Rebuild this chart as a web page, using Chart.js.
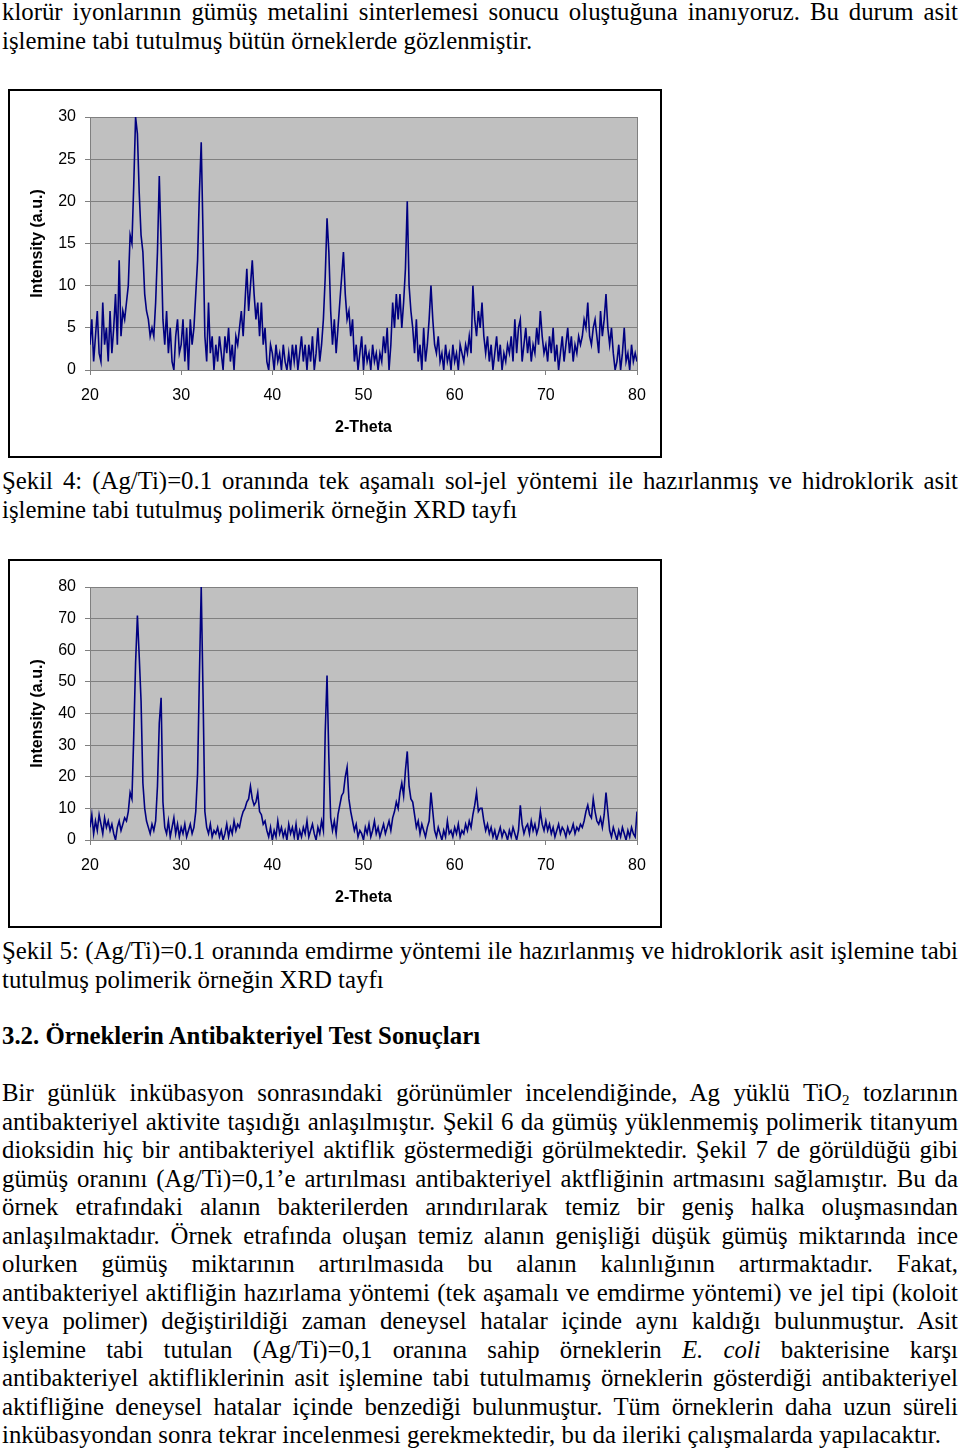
<!DOCTYPE html>
<html lang="tr">
<head>
<meta charset="utf-8">
<script src="https://cdn.jsdelivr.net/npm/chart.js@4.4.1/dist/chart.umd.min.js"></script>
<style>
  body { margin: 0; width: 960px; height: 1449px; position: relative; overflow: hidden; background: #fff;
         font-family: "Liberation Serif", "Times New Roman", serif; font-size: 24.8px; color: #000; }
  .blk { position: absolute; left: 2px; width: 956px; line-height: 28.5px; }
  .blk div { white-space: nowrap; }
  .j { text-align: justify; text-align-last: justify; }
  .box { position: absolute; left: 8px; width: 650px; height: 365px; border: 2px solid #000; background: #fff; }
  .box canvas { display: block; }
  sub { font-size: 15px; line-height: 0; vertical-align: -4px; }
</style>
</head>
<body>

<div class="blk" style="top:-2px">
  <div class="j">klorür iyonlarının gümüş metalini sinterlemesi sonucu oluştuğuna inanıyoruz. Bu durum asit</div>
  <div>işlemine tabi tutulmuş bütün örneklerde gözlenmiştir.</div>
</div>

<div class="box" style="top:89px"><canvas id="xrd4" width="650" height="365"></canvas></div>

<div class="blk" style="top:467px">
  <div class="j">Şekil 4: (Ag/Ti)=0.1 oranında tek aşamalı sol-jel yöntemi ile hazırlanmış ve hidroklorik asit</div>
  <div>işlemine tabi tutulmuş polimerik örneğin XRD tayfı</div>
</div>

<div class="box" style="top:559px"><canvas id="xrd5" width="650" height="365"></canvas></div>

<div class="blk" style="top:937px">
  <div class="j">Şekil 5: (Ag/Ti)=0.1 oranında emdirme yöntemi ile hazırlanmış ve hidroklorik asit işlemine tabi</div>
  <div>tutulmuş polimerik örneğin XRD tayfı</div>
</div>

<div class="blk" style="top:1022px; font-weight:bold">
  <div>3.2. Örneklerin Antibakteriyel Test Sonuçları</div>
</div>

<div class="blk" style="top:1079px">
  <div class="j">Bir günlük inkübasyon sonrasındaki görünümler incelendiğinde, Ag yüklü TiO<sub>2</sub> tozlarının</div>
  <div class="j">antibakteriyel aktivite taşıdığı anlaşılmıştır. Şekil 6 da gümüş yüklenmemiş polimerik titanyum</div>
  <div class="j">dioksidin hiç bir antibakteriyel aktiflik göstermediği görülmektedir. Şekil 7 de görüldüğü gibi</div>
  <div class="j">gümüş oranını (Ag/Ti)=0,1’e artırılması antibakteriyel aktfliğinin artmasını sağlamıştır. Bu da</div>
  <div class="j">örnek etrafındaki alanın bakterilerden arındırılarak temiz bir geniş halka oluşmasından</div>
  <div class="j">anlaşılmaktadır. Örnek etrafında oluşan temiz alanın genişliği düşük gümüş miktarında ince</div>
  <div class="j">olurken gümüş miktarının artırılmasıda bu alanın kalınlığının artırmaktadır. Fakat,</div>
  <div class="j">antibakteriyel aktifliğin hazırlama yöntemi (tek aşamalı ve emdirme yöntemi) ve jel tipi (koloit</div>
  <div class="j">veya polimer) değiştirildiği zaman deneysel hatalar içinde aynı kaldığı bulunmuştur. Asit</div>
  <div class="j">işlemine tabi tutulan (Ag/Ti)=0,1 oranına sahip örneklerin <i>E. coli</i> bakterisine karşı</div>
  <div class="j">antibakteriyel aktifliklerinin asit işlemine tabi tutulmamış örneklerin gösterdiği antibakteriyel</div>
  <div class="j">aktifliğine deneysel hatalar içinde benzediği bulunmuştur. Tüm örneklerin daha uzun süreli</div>
  <div>inkübasyondan sonra tekrar incelenmesi gerekmektedir, bu da ileriki çalışmalarda yapılacaktır.</div>
</div>

<script>
// 2-theta grid: 20.0 .. 80.0, one reading every 0.2 degrees
const thetaStart = 20;
const thetaStep = 0.2;
const xTicks = [20, 30, 40, 50, 60, 70, 80];

// Şekil 4 - tek aşamalı sol-jel, intensity (a.u.)
const intensity4 = [
  3, 6, 1, 4, 7, 2, 1, 8, 3, 5,          // 20
  1, 7, 2, 5, 9, 3, 13, 4, 7, 6,         // 22
  8, 10, 16, 15, 22, 30, 28, 21, 16, 14, // 24
  9, 7, 6, 4, 5, 4, 8, 14, 23, 15,       // 26
  6, 3, 7, 2, 5, 1, 0, 4, 6, 2,          // 28
  3, 6, 1, 5, 0, 6, 3, 5, 9, 13,         // 30
  21, 27, 16, 4, 1, 8, 2, 4, 0, 3,       // 32
  1, 4, 2, 0, 4, 2, 5, 1, 3, 0,          // 34
  4, 3, 5, 7, 4, 8, 12, 7, 10, 13,       // 36
  9, 6, 8, 4, 8, 3, 5, 1, 0, 3,          // 38
  2, 0, 3, 1, 2, 0, 3, 1, 0, 2,          // 40
  0, 3, 1, 3, 0, 2, 4, 1, 3, 0,          // 42
  3, 1, 4, 0, 2, 5, 1, 3, 6, 11,         // 44
  18, 14, 7, 3, 6, 2, 5, 8, 11, 14,      // 46
  9, 6, 7, 4, 6, 1, 3, 0, 2, 4,          // 48
  0, 3, 1, 2, 0, 3, 1, 2, 0, 2,          // 50
  1, 4, 2, 5, 0, 3, 8, 5, 9, 6,          // 52
  9, 5, 8, 12, 20, 10, 7, 5, 2, 6,       // 54
  1, 3, 0, 5, 1, 3, 6, 10, 6, 3,         // 56
  2, 4, 1, 2, 0, 3, 1, 2, 0, 3,          // 58
  1, 2, 0, 3, 2, 1, 3, 2, 4, 2,          // 60
  10, 6, 4, 7, 5, 8, 4, 2, 4, 1,         // 62
  3, 0, 2, 4, 1, 3, 0, 2, 1, 3,          // 64
  2, 4, 1, 6, 2, 5, 6, 1, 3, 5,          // 66
  2, 4, 1, 3, 2, 5, 3, 7, 4, 2,          // 68
  3, 1, 4, 2, 5, 1, 3, 0, 2, 4,          // 70
  1, 3, 5, 2, 4, 1, 3, 2, 4, 3,          // 72
  4, 6, 5, 8, 4, 3, 5, 6, 4, 2,          // 74
  7, 4, 6, 9, 5, 3, 5, 2, 0, 1,          // 76
  3, 0, 2, 5, 1, 2, 0, 3, 1, 2,          // 78
  1                                      // 80
];

// Şekil 5 - emdirme yöntemi, intensity (a.u.)
const intensity5 = [
  4, 8, 2, 6, 3, 8, 5, 2, 7, 4,          // 20
  6, 3, 5, 2, 0, 4, 6, 3, 5, 7,          // 22
  6, 9, 15, 13, 33, 56, 71, 58, 44, 18,  // 24
  10, 6, 4, 2, 5, 3, 6, 17, 37, 45,      // 26
  12, 4, 2, 6, 1, 4, 7, 2, 5, 1,         // 28
  4, 2, 5, 1, 3, 5, 2, 4, 9, 21,         // 30
  52, 80, 46, 9, 4, 2, 5, 1, 3, 2,       // 32
  4, 1, 3, 0, 2, 5, 1, 4, 2, 6,          // 34
  3, 5, 4, 7, 9, 10, 12, 13, 17, 13,     // 36
  11, 12, 15, 9, 8, 5, 6, 3, 1, 4,       // 38
  0, 3, 1, 6, 2, 4, 1, 3, 0, 5,          // 40
  2, 4, 1, 5, 0, 3, 1, 4, 2, 6,          // 42
  1, 3, 5, 2, 0, 4, 2, 6, 3, 34,         // 44
  52, 26, 7, 3, 6, 2, 8, 11, 14, 15,     // 46
  20, 23, 13, 9, 6, 3, 5, 1, 3, 2,       // 48
  0, 4, 2, 5, 1, 3, 6, 2, 4, 1,          // 50
  3, 5, 2, 4, 6, 3, 7, 9, 12, 10,        // 52
  15, 18, 14, 22, 28, 17, 13, 12, 8, 4,  // 54
  6, 2, 5, 3, 1, 4, 6, 15, 9, 3,         // 56
  1, 4, 2, 0, 3, 1, 6, 2, 3, 1,          // 58
  4, 2, 5, 1, 3, 2, 5, 3, 6, 4,          // 60
  8, 11, 15, 9, 10, 10, 6, 3, 5, 2,      // 62
  4, 1, 3, 0, 2, 4, 1, 3, 2, 0,          // 64
  3, 1, 4, 2, 0, 3, 11, 5, 2, 4,         // 66
  5, 2, 6, 3, 5, 2, 4, 9, 5, 3,          // 68
  6, 3, 5, 2, 4, 1, 3, 5, 2, 4,          // 70
  3, 1, 4, 2, 3, 5, 2, 4, 3, 5,          // 72
  4, 6, 9, 11, 8, 7, 13, 9, 6, 5,        // 74
  7, 4, 8, 15, 9, 3, 1, 4, 2, 0,         // 76
  3, 1, 4, 2, 0, 3, 1, 4, 2, 1,          // 78
  9                                      // 80
];

const yMax4 = 30, yStep4 = 5;
const yMax5 = 80, yStep5 = 10;

function toPoints(vals) {
  return vals.map((v, i) => ({ x: +(thetaStart + i * thetaStep).toFixed(1), y: v }));
}

// grey Excel plot area + right edge line
const plotArea = {
  id: 'plotArea',
  beforeDraw(chart) {
    const { ctx, chartArea: a } = chart;
    ctx.save();
    ctx.fillStyle = '#c0c0c0';
    ctx.fillRect(a.left, a.top, a.right - a.left, a.bottom - a.top);
    ctx.restore();
  },
  beforeDatasetsDraw(chart) {
    const { ctx, chartArea: a } = chart;
    ctx.save();
    ctx.strokeStyle = '#808080';
    ctx.lineWidth = 1;
    ctx.beginPath();
    ctx.moveTo(Math.round(a.right) + 0.5, a.top);
    ctx.lineTo(Math.round(a.right) + 0.5, a.bottom);
    ctx.stroke();
    ctx.restore();
  }
};

const tickFont = { family: 'Liberation Sans', size: 16 };
const titleFont = { family: 'Liberation Sans', size: 16, weight: 'bold' };

function makeChart(id, vals, yMax, yStep) {
  return new Chart(document.getElementById(id), {
    type: 'line',
    data: {
      datasets: [{
        data: toPoints(vals),
        borderColor: '#000080',
        borderWidth: 1.6,
        pointRadius: 0,
        tension: 0,
        fill: false
      }]
    },
    options: {
      responsive: false,
      animation: false,
      layout: { padding: { top: 26, right: 23, left: 0, bottom: 0 } },
      plugins: { legend: { display: false }, tooltip: { enabled: false } },
      scales: {
        x: {
          type: 'linear',
          min: 20,
          max: 80,
          afterBuildTicks(s) { s.ticks = xTicks.map(v => ({ value: v })); },
          afterFit(s) { s.height = 86; },
          ticks: { color: '#000', font: tickFont, padding: 11, maxRotation: 0, autoSkip: false },
          grid: { drawOnChartArea: false, drawTicks: true, tickLength: 5, color: '#808080' },
          border: { color: '#808080' },
          title: { display: true, text: '2-Theta', color: '#000', font: titleFont, padding: { top: 0, bottom: 19 } }
        },
        y: {
          min: 0,
          max: yMax,
          afterFit(s) { s.width = 80; },
          ticks: { stepSize: yStep, color: '#000', font: tickFont, padding: 9 },
          grid: { color: '#808080', tickLength: 5 },
          border: { color: '#808080' },
          title: { display: true, text: 'Intensity (a.u.)', color: '#000', font: titleFont, padding: { top: 18, bottom: 0 } }
        }
      }
    },
    plugins: [plotArea]
  });
}

makeChart('xrd4', intensity4, yMax4, yStep4);
makeChart('xrd5', intensity5, yMax5, yStep5);
</script>
</body>
</html>
